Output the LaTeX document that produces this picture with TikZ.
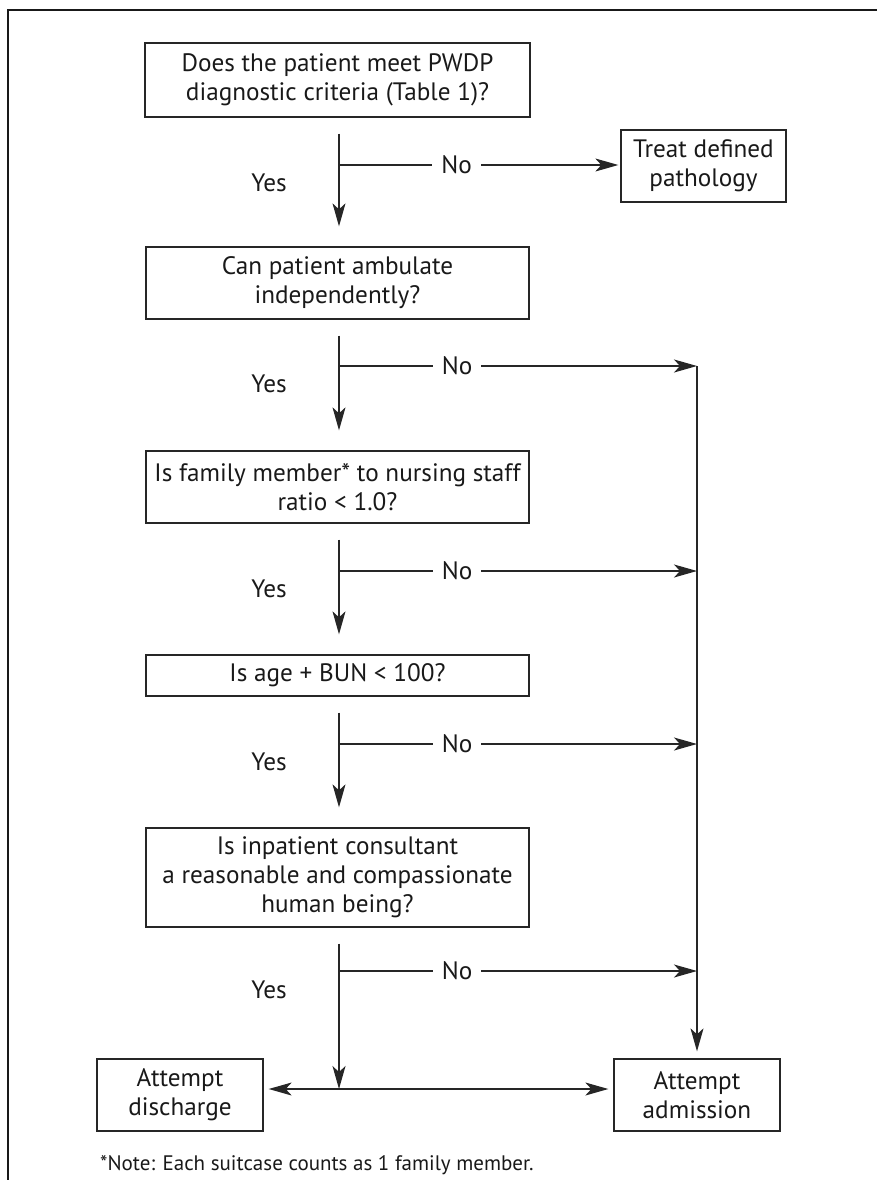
\documentclass[tikz,border=0pt]{standalone}
\usepackage{fontspec}
\setmainfont{PT Sans}
\usetikzlibrary{arrows.meta}
\begin{document}
\begin{tikzpicture}[x=1pt,y=-1pt,
  box/.style={draw=black!85, line width=1.3pt, rectangle, align=center, inner sep=0pt, font=\fontsize{25.2}{29}\selectfont, text=black!90},
  lab/.style={font=\fontsize{25.2}{29}\selectfont, text=black!90, inner sep=0pt},
  nolab/.style={lab, fill=white, inner xsep=9pt, inner ysep=2pt},
  arr/.style={draw=black!85, line width=1.3pt, -{Stealth[length=23pt,width=13pt,inset=6pt]}},
  frame/.style={draw=black!90, line width=1.6pt}]
\useasboundingbox (0,0) rectangle (877,1180);
\draw[frame] (8,1180) -- (8,10) -- (877,10);

\node[box, minimum width=385pt, minimum height=74pt] (b1) at (337.5,80) {Does the patient meet PWDP\\diagnostic criteria (Table 1)?};
\node[box, minimum width=165pt, minimum height=72pt] (treat) at (703.5,166) {Treat defined\\pathology};
\node[box, minimum width=383pt, minimum height=72pt] (b2) at (337.5,283) {Can patient ambulate\\independently?};
\node[box, minimum width=383pt, minimum height=72pt] (b3) at (337.5,487) {Is family member* to nursing staff\\ratio < 1.0?};
\node[box, minimum width=383pt, minimum height=41pt] (b4) at (337.5,675.5) {Is age + BUN < 100?};
\node[box, minimum width=383pt, minimum height=99pt] (b5) at (337.5,877.5) {Is inpatient consultant\\a reasonable and compassionate\\human being?};
\node[box, minimum width=166pt, minimum height=72pt] (dis) at (180,1095) {Attempt\\discharge};
\node[box, minimum width=166pt, minimum height=72pt] (adm) at (697,1095) {Attempt\\admission};

\coordinate (m) at (339,0);
\coordinate (n1) at (339,165);
\coordinate (n2) at (339,366);
\coordinate (n3) at (339,571);
\coordinate (n4) at (339,744);
\coordinate (n5) at (339,971);
\coordinate (r2) at (697,366);
\coordinate (r3) at (697,571);
\coordinate (r4) at (697,744);
\coordinate (r5) at (697,971);
\coordinate (jb) at (339,1089);

\draw[arr, shorten <=16pt, shorten >=20pt] (b1.south -| m) -- (b2.north -| m);
\draw[arr, shorten <=16pt, shorten >=20pt] (b2.south -| m) -- (b3.north -| m);
\draw[arr, shorten <=16pt, shorten >=20pt] (b3.south -| m) -- (b4.north -| m);
\draw[arr, shorten <=16pt, shorten >=20pt] (b4.south -| m) -- (b5.north -| m);
\draw[arr, shorten <=16pt] (b5.south -| m) -- (jb);

\draw[arr, shorten >=2pt] (n1) -- node[nolab, pos=0.418] {No} (n1 -| treat.west);
\draw[arr] (n2) -- node[nolab, pos=0.33] {No} (r2);
\draw[arr] (n3) -- node[nolab, pos=0.33] {No} (r3);
\draw[arr] (n4) -- node[nolab, pos=0.33] {No} (r4);
\draw[arr] (n5) -- node[nolab, pos=0.33] {No} (r5);
\draw[arr, shorten >=7pt] (r2) -- (adm.north);

\draw[arr, shorten >=5pt] (jb) -- (jb -| dis.east);
\draw[arr, shorten >=5pt] (jb) -- (jb -| adm.west);

\node[lab] (y1) at (269,183) {Yes};
\node[lab] (y2) at (269,384) {Yes};
\node[lab] (y3) at (269,589) {Yes};
\node[lab] (y4) at (269,762) {Yes};
\node[lab] (y5) at (269,990) {Yes};

\node[lab, anchor=west, font=\fontsize{21}{24}\selectfont] (note) at (100,1165) {*Note: Each suitcase counts as 1 family member.};
\end{tikzpicture}
\end{document}
